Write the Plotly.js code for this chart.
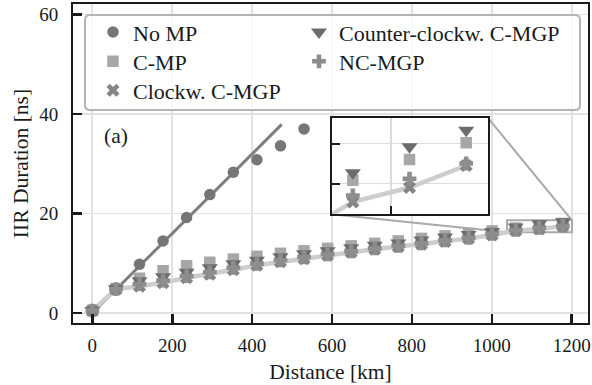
<!DOCTYPE html>
<html>
<head>
<meta charset="utf-8">
<script src="https://cdn.plot.ly/plotly-3.0.1.min.js"></script>
<style>
  html, body { margin: 0; padding: 0; background: #ffffff; }
  #chart { width: 592px; height: 385px; }
</style>
</head>
<body>
<div id="chart"></div>
<script>
// Link distance [km]
const distance = [0, 59, 118, 177, 236, 294, 353, 412, 471, 530, 589, 648, 707, 766, 824, 883, 942, 1001, 1060, 1119, 1178];

// IIR duration [ns] per scheme
const noMP      = [0.5, 5.0, 9.8, 14.5, 19.2, 23.8, 28.3, 30.8, 33.6, 37.0];
const cMP       = [0.5, 4.9, 7.0, 8.5, 9.5, 10.2, 10.85, 11.4, 12.0, 12.5, 13.0, 13.5, 14.0, 14.5, 15.0, 15.5, 16.0, 16.5, 17.08, 17.6, 18.02];
const clockwise = [0.5, 4.8, 5.4, 6.1, 7.1, 7.8, 8.7, 9.6, 10.3, 10.9, 11.6, 12.2, 12.8, 13.3, 13.8, 14.4, 15.0, 15.7, 16.54, 16.9, 17.45];
const counterCw = [0.5, 4.9, 6.5, 7.3, 8.2, 9.1, 9.9, 10.6, 11.3, 11.9, 12.5, 13.1, 13.6, 14.1, 14.7, 15.3, 15.8, 16.4, 17.27, 17.92, 18.33];
const ncMGP     = [0.5, 4.8, 5.8, 6.5, 7.4, 8.2, 9.1, 9.9, 10.6, 11.2, 11.8, 12.4, 13.0, 13.5, 14.0, 14.6, 15.1, 15.9, 16.7, 17.12, 17.5];

// Linear trend of the unmitigated case
const noMPFitX = [0, 474];
const noMPFitY = [0, 37.9];

const seriesNames = ['No MP', 'C-MP', 'Clockw. C-MGP', 'Counter-clockw. C-MGP', 'NC-MGP'];

// Axis ranges
const xRange = [-48.5, 1241];
const yRange = [-2.0, 62.1];
const xTicks = [0, 200, 400, 600, 800, 1000, 1200];
const yTicks = [0, 20, 40, 60];

// Zoomed region
const zoomX = [1038, 1201];
const zoomY = [16.23, 18.63];
const zoomXTicks = [1100, 1200];
const zoomYTicks = [17, 18];

const FONT = "'Liberation Serif', 'DejaVu Serif', serif";
const INK = '#1a1a1a';

// Plot-area geometry in pixels
const W = 592, H = 385;
const M = { l: 73, r: 4, t: 4, b: 62 };
const PW = W - M.l - M.r, PH = H - M.t - M.b;
const px2fx = p => (p - M.l) / PW;
const px2fy = p => (H - M.b - p) / PH;

// Inset placement (paper fractions)
const insetDomX = [px2fx(331.7), px2fx(488.3)];
const insetDomY = [px2fy(214.3), px2fy(118.3)];

// Marker styles; each entry gets its own legend slot (two columns, filled column by column)
const style = {
  'No MP':                 { symbol: 'circle',        size: 11.5, color: '#767676', legend: 'legend',  col: 0, row: 0 },
  'C-MP':                  { symbol: 'square',        size: 11.5, color: '#a7a7a7', legend: 'legend2', col: 0, row: 1 },
  'Clockw. C-MGP':         { symbol: 'x',             size: 11.5, color: '#858585', legend: 'legend3', col: 0, row: 2 },
  'Counter-clockw. C-MGP': { symbol: 'triangle-down', size: 14,   color: '#6c6c6c', legend: 'legend4', col: 1, row: 0 },
  'NC-MGP':                { symbol: 'cross',         size: 11.5, color: '#8d8d8d', legend: 'legend5', col: 1, row: 1 }
};

const values = {
  'No MP': noMP, 'C-MP': cMP, 'Clockw. C-MGP': clockwise,
  'Counter-clockw. C-MGP': counterCw, 'NC-MGP': ncMGP
};

function lineTraces(xa, ya) {
  return [
    { x: noMPFitX, y: noMPFitY, mode: 'lines', xaxis: xa, yaxis: ya, showlegend: false,
      hoverinfo: 'skip', line: { color: '#7e7e7e', width: 3 } },
    { x: distance, y: clockwise, mode: 'lines', xaxis: xa, yaxis: ya, showlegend: false,
      hoverinfo: 'skip', line: { color: '#cdcdcd', width: 4.5 } }
  ];
}

function markerTraces(xa, ya, showInLegend) {
  return seriesNames.map(name => {
    const s = style[name];
    const yv = values[name];
    return {
      x: distance.slice(0, yv.length), y: yv, name: name, mode: 'markers',
      xaxis: xa, yaxis: ya, showlegend: showInLegend, legend: s.legend,
      marker: { symbol: s.symbol, size: s.size, color: s.color, line: { width: 0 } }
    };
  });
}

const data = [].concat(
  lineTraces('x', 'y'),
  markerTraces('x', 'y', true),
  lineTraces('x2', 'y2'),
  markerTraces('x2', 'y2', false)
);

// Inset corners expressed in main-axis data units
const toDataX = f => xRange[0] + f * (xRange[1] - xRange[0]);
const toDataY = f => yRange[0] + f * (yRange[1] - yRange[0]);

// Rounded legend frame (paper units)
function roundRect(x0p, y0p, x1p, y1p, r) {
  const a = px2fx(x0p), b = px2fx(x1p), top = px2fy(y0p), bot = px2fy(y1p);
  const rx = r / PW, ry = r / PH;
  return `M ${a + rx},${top} L ${b - rx},${top} Q ${b},${top} ${b},${top - ry} ` +
         `L ${b},${bot + ry} Q ${b},${bot} ${b - rx},${bot} L ${a + rx},${bot} ` +
         `Q ${a},${bot} ${a},${bot + ry} L ${a},${top - ry} Q ${a},${top} ${a + rx},${top} Z`;
}

const grey = '#a9a9a9';
const shapes = [
  { type: 'rect', xref: 'x', yref: 'y', x0: zoomX[0], x1: zoomX[1], y0: zoomY[0], y1: zoomY[1],
    line: { color: grey, width: 2 }, fillcolor: 'rgba(0,0,0,0)', layer: 'between' },
  { type: 'line', xref: 'x', yref: 'y', x0: toDataX(insetDomX[1]), y0: toDataY(insetDomY[1]),
    x1: zoomX[1], y1: zoomY[1], line: { color: grey, width: 2 }, layer: 'between' },
  { type: 'line', xref: 'x', yref: 'y', x0: toDataX(insetDomX[0]), y0: toDataY(insetDomY[0]),
    x1: zoomX[0], y1: zoomY[0], line: { color: grey, width: 2 }, layer: 'between' },
  { type: 'path', xref: 'paper', yref: 'paper', path: roundRect(85, 15, 580, 110, 5),
    fillcolor: 'rgba(255,255,255,0.8)', line: { color: '#b4b4b4', width: 2 }, layer: 'above' }
];

const axisCommon = {
  showline: true, mirror: true, linecolor: INK, linewidth: 2,
  ticks: 'inside', tickcolor: INK, tickwidth: 2.5, ticklen: 9,
  showgrid: true, gridcolor: '#e2e2e2', gridwidth: 1.8, zeroline: false,
  tickfont: { family: FONT, size: 19, color: INK }
};

const legendFont = { family: FONT, size: 22, color: INK };
const legendCommon = {
  orientation: 'v', xanchor: 'left', yanchor: 'top', bgcolor: 'rgba(0,0,0,0)',
  borderwidth: 0, font: legendFont, itemclick: false
};
const colLeft = [93, 299];       // px of each legend column
const rowCenter = [31.7, 61, 90]; // px of each legend row

const layout = {
  width: W, height: H,
  margin: M,
  paper_bgcolor: '#ffffff', plot_bgcolor: '#ffffff',
  font: { family: FONT, color: INK },
  showlegend: true,
  xaxis: Object.assign({}, axisCommon, {
    range: xRange, tickmode: 'array', tickvals: xTicks, ticklabelstandoff: 4,
    title: { text: 'Distance [km]', font: { family: FONT, size: 21.5, color: INK }, standoff: 9 }
  }),
  yaxis: Object.assign({}, axisCommon, {
    range: yRange, tickmode: 'array', tickvals: yTicks, ticklabelstandoff: 9,
    title: { text: 'IIR Duration [ns]', font: { family: FONT, size: 21.5, color: INK }, standoff: 5 }
  }),
  xaxis2: Object.assign({}, axisCommon, {
    domain: insetDomX, anchor: 'y2', range: zoomX, tickmode: 'array', tickvals: zoomXTicks,
    showticklabels: false, ticklen: 8, tickwidth: 2, gridcolor: '#dcdcdc'
  }),
  yaxis2: Object.assign({}, axisCommon, {
    domain: insetDomY, anchor: 'x2', range: zoomY, tickmode: 'array', tickvals: zoomYTicks,
    showticklabels: false, ticklen: 8, tickwidth: 2, gridcolor: '#dcdcdc'
  }),
  shapes: shapes,
  annotations: [
    { text: '(a)', x: 23.5, y: 35.6, xref: 'x', yref: 'y', xanchor: 'left', yanchor: 'middle',
      showarrow: false, font: { family: FONT, size: 21.5, color: INK } }
  ]
};

seriesNames.forEach(name => {
  const s = style[name];
  layout[s.legend] = Object.assign({}, legendCommon, {
    x: px2fx(colLeft[s.col]), y: px2fy(rowCenter[s.row] - 20.5)
  });
});

Plotly.newPlot('chart', data, layout, { displayModeBar: false, staticPlot: true });
</script>
</body>
</html>
